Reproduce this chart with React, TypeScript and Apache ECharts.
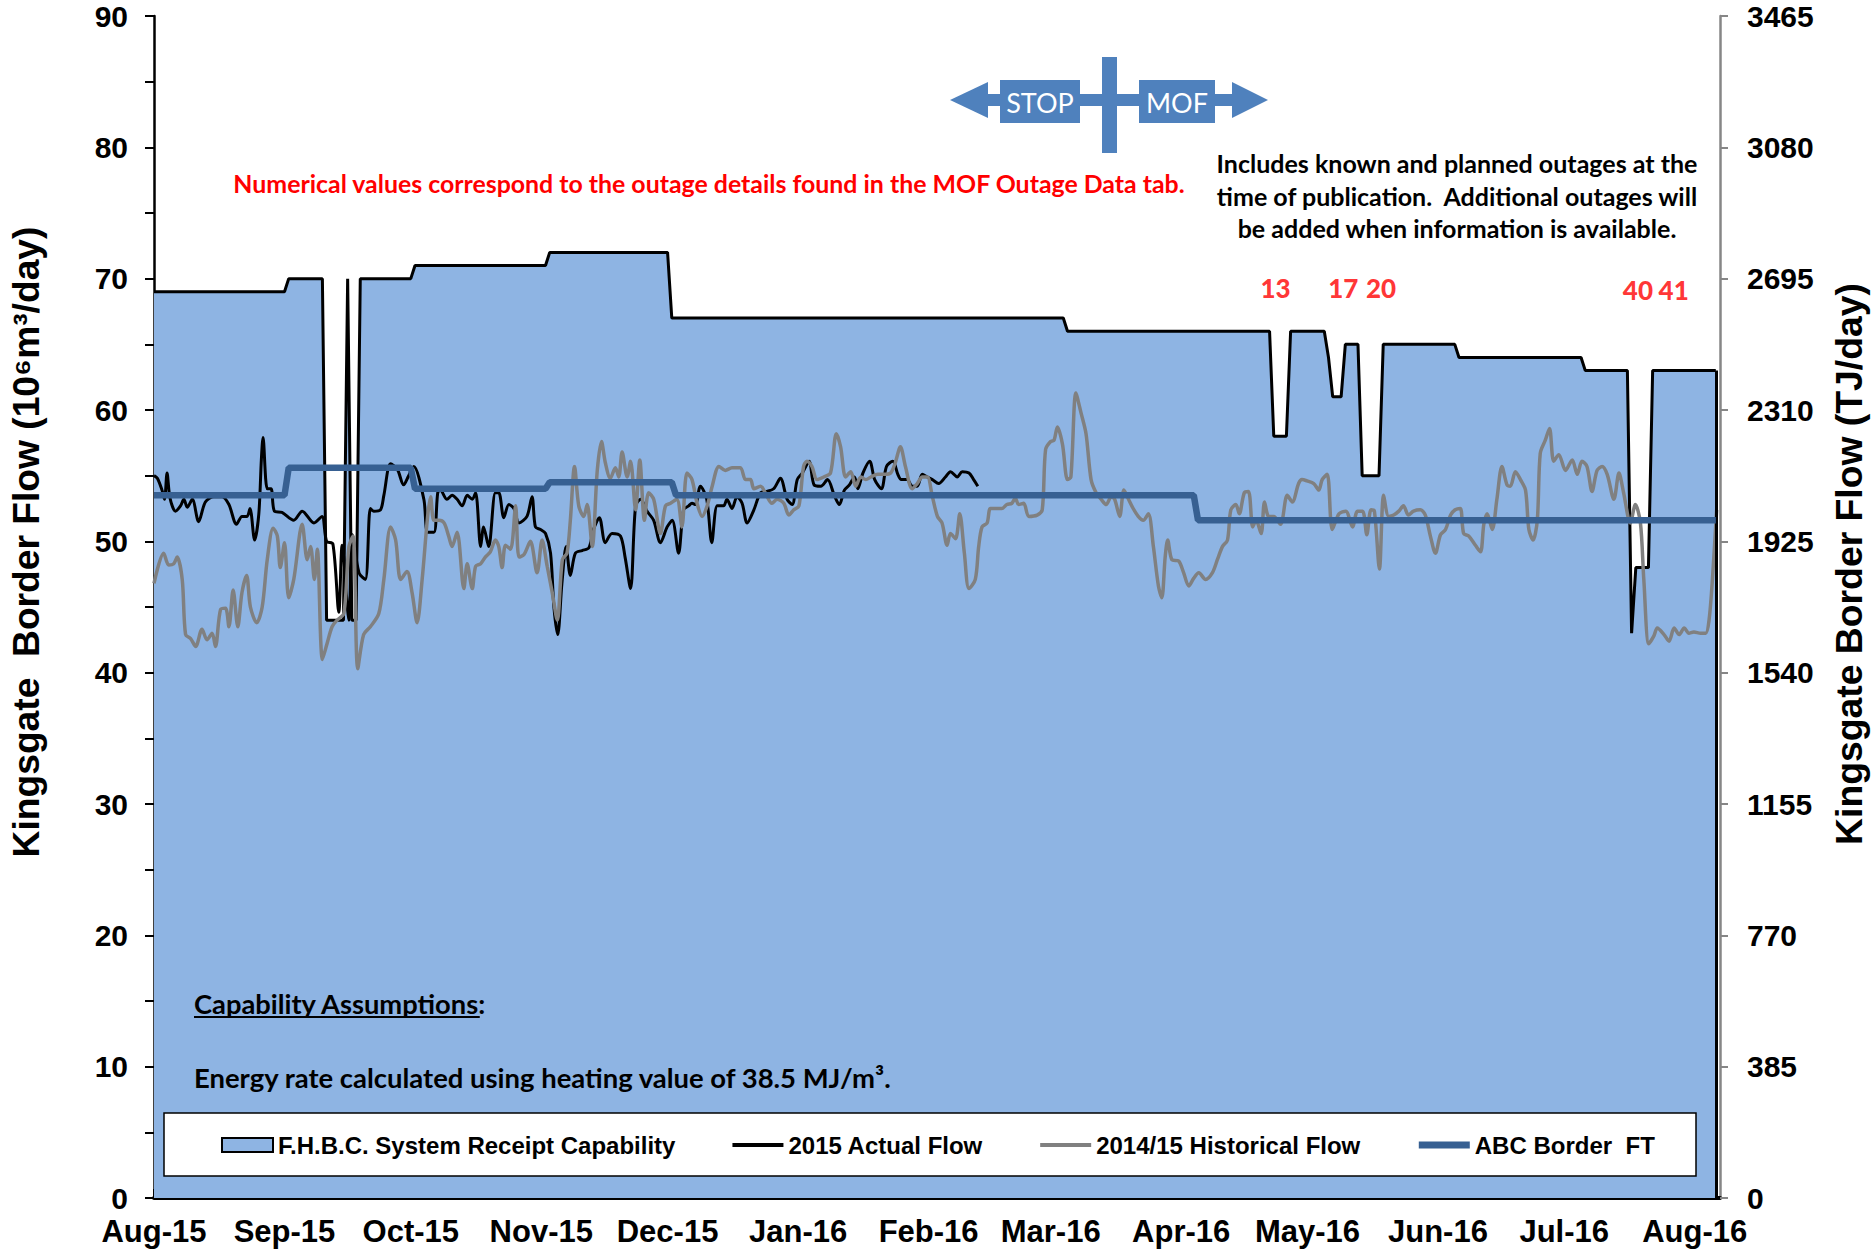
import React, { useEffect, useRef } from 'react';
import * as echarts from 'echarts';

// ---------- DATA ----------
const MONTH_LABELS = ['Aug-15', 'Sep-15', 'Oct-15', 'Nov-15', 'Dec-15', 'Jan-16', 'Feb-16', 'Mar-16', 'Apr-16', 'May-16', 'Jun-16', 'Jul-16', 'Aug-16'];
// days since 1 Aug 2015 of each month start
const MONTH_START_DAY = [0, 31, 61, 92, 122, 153, 184, 213, 244, 274, 305, 335, 366];
const X_MAX_DAY = 372;

const LEFT_MAX = 90;
const LEFT_INTERVAL = 10;
const RIGHT_MAX = 3465;
const RIGHT_INTERVAL = 385;

// F.H.B.C. System Receipt Capability (10^6 m3/day), [day, value]
const CAPABILITY: number[][] = [
  [0, 69], [31, 69], [32, 70], [40, 70], [41, 44], [45, 44], [46, 70], [47, 44], [48, 44], [49, 70],
  [61, 70], [62, 71], [93, 71], [94, 72], [122, 72], [123, 67], [216, 67], [217, 66], [265, 66], [266, 58],
  [269, 58], [270, 66], [278, 66], [279, 64], [280, 61], [282, 61], [283, 65], [286, 65], [287, 55], [291, 55],
  [292, 65], [309, 65], [310, 64], [339, 64], [340, 63], [350, 63], [351, 43], [352, 48], [355, 48], [356, 63],
  [371, 63],
];

// ABC Border FT
const ABC_FT: number[][] = [
  [0, 53.5], [31, 53.5], [32, 55.6], [61, 55.6], [62, 54.0], [93, 54.0], [94, 54.5], [123, 54.5], [124, 53.5],
  [247, 53.5], [248, 51.6], [371, 51.6],
];

// 2015 Actual Flow
const ACTUAL_FLOW: number[][] = [
  [0, 55.0], [0.8, 54.8], [1.9, 53.9], [2.5, 53.2], [3.1, 55.2], [3.8, 53.3], [5.1, 52.3], [6.3, 52.7], [7.1, 53.2], [7.9, 52.6],
  [9.1, 53.2], [10.6, 51.5], [12.2, 53.0], [14.2, 53.4], [16.2, 53.4], [17.8, 52.8], [19.6, 51.3], [20.9, 51.9], [22.1, 51.9], [22.8, 52.5],
  [23.9, 50.1], [24.9, 52.1], [25.5, 56.2], [25.9, 57.9], [26.9, 54.0], [27.8, 54.0], [28.6, 52.3], [30.4, 52.2], [33.2, 51.6], [35.2, 52.3],
  [38, 51.4], [39.9, 51.9], [41, 50.0], [42.5, 49.8], [43.9, 44.6], [44.7, 49.7], [46.3, 44.0], [47.1, 50.5], [48.7, 47.6], [50.2, 47.1],
  [51.4, 52.5], [52.2, 52.3], [53.8, 52.4], [54.6, 53.5], [56.2, 55.9], [57.8, 55.5], [59.3, 54.3], [60.5, 55.0], [61.7, 55.7], [64.1, 53.2],
  [65, 50.7], [66.5, 50.7], [67.4, 53.7], [68, 53.9], [69.6, 53.2], [70.8, 53.5], [72, 53.2], [73.2, 52.7], [74.4, 53.5], [75.6, 53.2],
  [76.4, 53.7], [77.6, 49.6], [78.3, 51.1], [79.5, 49.6], [81.1, 53.7], [81.9, 53.7], [83.1, 51.8], [84.3, 52.8], [85.5, 52.5], [86.7, 51.4],
  [88.6, 51.9], [89.8, 53.4], [90.6, 51.1], [91.8, 50.9], [93, 50.6], [94.2, 49.1], [95, 45.0], [95.9, 42.9], [96.9, 46.8], [97.9, 49.6],
  [98.9, 47.4], [100.1, 49.1], [101.7, 49.3], [103.3, 49.5], [104.4, 50.9], [105.8, 51.8], [107.2, 49.9], [108.8, 50.6], [110.8, 50.4], [111.9, 48.8],
  [113.2, 46.4], [114.4, 52.7], [115.6, 53.2], [117.1, 52.3], [118.7, 51.6], [120.3, 49.9], [121.9, 51.1], [123.1, 51.6], [124.6, 49.1], [125.8, 52.4],
  [127, 52.7], [127.8, 52.9], [128.6, 52.8], [129.8, 54.2], [131.3, 53.2], [132.5, 49.9], [133.8, 52.7], [135.3, 52.7], [136.1, 53.2], [137.3, 52.5],
  [138.5, 53.4], [139.7, 52.9], [140.9, 51.4], [142.5, 52.4], [144.1, 53.7], [145.6, 53.8], [147.2, 54.0], [148.8, 54.8], [150.4, 53.2], [151.6, 52.8],
  [152.8, 54.7], [154, 55.2], [155.6, 56.1], [156.8, 54.3], [158.4, 54.2], [160, 54.7], [161.6, 53.5], [162.8, 52.8], [164, 53.9], [165.2, 54.3],
  [166.4, 54.9], [167.2, 54.0], [168.4, 55.2], [170, 56.1], [171.2, 54.7], [172.8, 54.0], [174, 55.7], [175.5, 56.1], [176.7, 55.1], [177.5, 54.7],
  [178.9, 54.7], [180.1, 54.2], [181.3, 54.2], [182.5, 55.1], [183.7, 54.9], [184.9, 54.7], [186.4, 54.4], [188, 54.9], [189.2, 55.3], [190.8, 54.9],
  [192, 55.3], [193.6, 55.2], [194.7, 54.7], [195.7, 54.2],
];

// 2014/15 Historical Flow
const HISTORICAL_FLOW: number[][] = [
  [0, 46.8], [2.3, 49.1], [3.5, 48.2], [4.7, 48.3], [5.5, 48.8], [6.7, 47.1], [7.5, 42.9], [8.7, 42.6], [9.9, 42.0], [11.4, 43.3],
  [12.6, 42.5], [13.8, 43.0], [14.6, 42.0], [15.8, 44.8], [17, 44.9], [17.8, 43.5], [18.8, 46.3], [19.9, 43.5], [20.9, 46.1], [22, 47.4],
  [22.9, 45.0], [24.4, 43.8], [25.7, 45.0], [26.9, 48.6], [28.3, 51.0], [29.3, 50.4], [30, 48.0], [31, 49.9], [32, 45.7], [33.2, 47.1],
  [35.2, 51.3], [36.4, 48.6], [37.2, 49.6], [38.1, 47.1], [38.8, 49.4], [40, 41.0], [41.1, 42.2], [42.3, 43.5], [43.5, 44.0], [45.1, 44.5],
  [46.3, 49.6], [47.3, 50.4], [48.4, 40.3], [49.8, 42.9], [51.4, 43.5], [53.4, 44.5], [54.6, 47.1], [56.2, 51.1], [57.4, 50.1], [58.6, 47.1],
  [60.1, 47.7], [61.3, 46.1], [62.5, 43.8], [63.7, 47.1], [65, 51.9], [65.7, 53.4], [66.5, 51.6], [67.7, 51.6], [68.9, 51.4], [70, 50.4],
  [70.8, 49.6], [72, 50.7], [73.6, 46.4], [74.4, 48.3], [75.6, 46.4], [76.4, 48.1], [77.6, 48.3], [78.7, 48.8], [79.9, 49.2], [81.1, 50.1],
  [81.9, 49.6], [82.7, 48.0], [83.5, 49.7], [84.7, 49.4], [85.9, 52.7], [86.7, 48.8], [87.9, 49.0], [89.4, 50.0], [91, 47.6], [92.2, 50.1],
  [93.4, 48.1], [94.6, 46.1], [95.8, 44.0], [97, 48.6], [98.1, 49.1], [98.9, 51.6], [99.9, 55.7], [100.9, 52.7], [102.1, 51.9], [102.9, 52.8],
  [104.1, 49.6], [105.3, 55.4], [106.3, 57.6], [107.2, 56.0], [108.4, 54.8], [109.6, 55.6], [110.4, 54.9], [111.2, 56.8], [112.4, 54.9], [113.2, 56.1],
  [114.4, 52.4], [115.4, 56.2], [116.5, 51.6], [117.5, 53.7], [118.7, 53.2], [120.3, 50.6], [121.5, 52.7], [122.7, 52.9], [124.2, 53.2], [125.4, 51.1],
  [126.6, 55.2], [127.8, 54.7], [129, 52.9], [130.2, 51.9], [131.4, 52.7], [132.6, 54.2], [134.2, 55.7], [135.7, 55.4], [137.3, 55.6], [139.3, 55.6],
  [140.5, 54.7], [141.7, 54.7], [142.5, 54.0], [144.1, 54.2], [145.2, 53.7], [146.8, 52.9], [148, 53.2], [149.6, 52.9], [150.8, 52.0], [152, 52.4],
  [153.2, 52.7], [154.3, 55.7], [155.1, 56.1], [156.3, 55.7], [157.5, 54.7], [159.1, 54.9], [160.7, 55.2], [162.1, 58.2], [163.1, 57.2], [164.3, 54.9],
  [165.5, 55.3], [166.7, 54.2], [167.9, 54.9], [169.1, 54.7], [170.3, 54.9], [171.9, 55.1], [173.5, 55.1], [175, 55.2], [176.1, 56.0], [177.3, 57.2],
  [178.5, 55.7], [180.1, 54.0], [181.3, 54.4], [182.5, 54.9], [183.7, 54.9], [184.9, 53.4], [186.1, 51.9], [187.2, 51.4], [188.4, 49.7], [189.2, 50.6],
  [190.4, 50.2], [191.4, 52.1], [192.5, 49.1], [193.6, 46.4], [195.1, 47.1], [195.9, 49.6], [196.7, 51.1], [197.9, 51.4], [198.7, 52.5], [200.3, 52.5],
  [201.4, 52.5], [202.6, 52.8], [203.8, 52.9], [204.6, 53.3], [205.4, 52.8], [206.6, 52.9], [207.8, 51.9], [209.8, 52.0], [211, 52.4], [211.8, 57.0],
  [213, 57.6], [213.8, 57.7], [214.6, 58.7], [215.8, 57.4], [217, 54.7], [217.8, 54.9], [219, 61.3], [220.2, 59.8], [221.4, 58.2], [222.6, 54.7],
  [223.8, 53.7], [225, 53.2], [226.2, 52.8], [227.4, 53.4], [228.2, 53.2], [229.4, 51.9], [230.4, 53.9], [231.5, 53.2], [232.6, 52.5], [233.8, 51.9],
  [235, 51.6], [236.2, 52.1], [237.4, 49.6], [238.6, 46.6], [239.4, 45.7], [240.2, 48.8], [240.8, 50.1], [241.8, 48.6], [243.4, 48.5], [244.6, 47.6],
  [245.8, 46.6], [247, 47.2], [248.2, 47.6], [249.8, 47.1], [251.4, 47.6], [252.6, 48.6], [253.8, 49.6], [255, 50.1], [255.8, 52.4], [257, 52.8],
  [257.8, 52.1], [259, 53.7], [260, 53.8], [261, 51.1], [261.8, 51.6], [263, 50.6], [263.8, 53.0], [264.8, 51.9], [266, 51.9], [267.6, 51.3],
  [269.2, 53.5], [270.4, 53.0], [271.9, 54.4], [272.7, 54.7], [273.9, 54.6], [275.5, 54.4], [276.7, 53.9], [277.5, 54.7], [278.7, 55.1], [279.9, 50.9],
  [281.5, 52.1], [283.1, 52.3], [284.7, 51.1], [285.9, 52.3], [287.1, 52.3], [288.1, 50.5], [289.1, 52.4], [289.9, 52.3], [291.1, 47.9], [292.1, 53.5],
  [293.3, 51.9], [294.5, 52.0], [295.7, 52.3], [296.8, 52.7], [298, 52.0], [299.2, 52.3], [300.8, 52.4], [302, 52.0], [303.2, 50.4], [304.4, 49.1],
  [305.6, 50.5], [306.8, 50.9], [308, 52.0], [309.1, 52.4], [310.3, 52.5], [311.1, 50.6], [312.3, 50.4], [313.9, 49.7], [315.1, 49.2], [315.9, 51.3],
  [316.7, 52.1], [317.9, 50.9], [319, 53.2], [320.2, 55.7], [321.4, 54.3], [322.2, 54.2], [323.4, 55.3], [324.6, 54.7], [325.8, 53.9], [326.6, 50.9],
  [327.6, 50.1], [328.6, 51.6], [329.3, 56.7], [330.5, 57.7], [331.5, 58.6], [332.5, 56.1], [333.7, 56.6], [335.3, 55.4], [336.9, 56.2], [338.1, 55.1],
  [339.2, 56.1], [340.4, 55.7], [341.6, 53.8], [342.8, 55.4], [344, 55.7], [345.2, 55.1], [346.8, 53.2], [348, 55.2], [349.1, 53.7], [350.7, 51.4],
  [351.9, 52.8], [353.1, 51.4], [353.9, 47.1], [355.1, 42.2], [356.3, 42.8], [357.1, 43.4], [358.7, 42.9], [359.9, 42.4], [361.1, 43.4], [362.3, 42.9],
  [363.5, 43.4], [364.6, 43.0], [365.8, 43.1], [367.4, 43.0], [368.6, 43.0], [369.4, 44.0], [370.2, 47.1], [371.2, 52.4],
];

// outage reference numbers shown above the capability line
const OUTAGE_LABELS = ['13', '17', '20', '40', '41'];
const OUTAGE_DAY = [266.4, 282.5, 291.5, 352.5, 361.0];
const OUTAGE_Y = [69.3, 69.3, 69.3, 69.1, 69.1];

const SERIES_NAMES = ['F.H.B.C. System Receipt Capability', '2015 Actual Flow', '2014/15 Historical Flow', 'ABC Border  FT'];

const NOTE_RED = 'Numerical values correspond to the outage details found in the MOF Outage Data tab.';
const NOTE_BLACK = ['Includes known and planned outages at the', 'time of publication.  Additional outages will', 'be added when information is available.'];
const CAP_TITLE = 'Capability Assumptions';
const ENERGY_NOTE = 'Energy rate calculated using heating value of 38.5 MJ/m\u00B3.';
const LEFT_TITLE = 'Kingsgate  Border Flow (10\u2076m\u00B3/day)';
const RIGHT_TITLE = 'Kingsgate Border Flow (TJ/day)';

// ---------- helpers ----------
const ARIAL = '"Liberation Sans", Arial, sans-serif';
const CALIBRI = 'Lato, "Open Sans", sans-serif';

function measure(text: string, weight: string, family: string, size: number): number {
  const c = document.createElement('canvas').getContext('2d');
  if (!c) return text.length * size * 0.5;
  c.font = `${weight} ${size}px ${family}`;
  return c.measureText(text).width;
}
function fit(text: string, weight: string, family: string, target: number): number {
  return (100 * target) / measure(text, weight, family, 100);
}

export default function App() {
  const ref = useRef<HTMLDivElement>(null);

  useEffect(() => {
    document.body.style.margin = '0';
    if (!ref.current) return;
    const chart = echarts.init(ref.current, undefined, { renderer: 'svg' });

    const redSize = fit(NOTE_RED, 'bold', CALIBRI, 953);
    const blackSize = fit(NOTE_BLACK[0], 'bold', CALIBRI, 481);
    const capSize = fit(CAP_TITLE + ':', 'bold', CALIBRI, 293);
    const capW = measure(CAP_TITLE, 'bold', CALIBRI, capSize);
    const energySize = fit(ENERGY_NOTE, 'bold', CALIBRI, 699);
    const leftTitleSize = fit(LEFT_TITLE, 'bold', ARIAL, 631);
    const rightTitleSize = fit(RIGHT_TITLE, 'bold', ARIAL, 562);

    const blue = '#4F81BD';
    const lastCap = CAPABILITY[CAPABILITY.length - 1];
    const hiddenSymbol = { opacity: 0 };

    const option: any = {
      animation: false,
      backgroundColor: '#ffffff',
      grid: { left: 154, right: 153, top: 16, bottom: 59, containLabel: false, outerBoundsMode: 'none' },
      tooltip: { show: false },
      xAxis: {
        type: 'value',
        min: 0,
        max: X_MAX_DAY,
        axisLine: { show: true, onZero: false, lineStyle: { color: '#000', width: 4 } },
        axisTick: { show: true, inside: true, length: 9, lineStyle: { color: '#000', width: 2 }, customValues: MONTH_START_DAY },
        axisLabel: {
          customValues: MONTH_START_DAY,
          formatter: (v: number) => MONTH_LABELS[MONTH_START_DAY.indexOf(Math.round(v))] ?? '',
          fontSize: 31,
          fontWeight: 'bold',
          fontFamily: ARIAL,
          color: '#000',
          margin: 18,
        },
        splitLine: { show: false },
      },
      yAxis: [
        {
          type: 'value',
          position: 'left',
          min: 0,
          max: LEFT_MAX,
          interval: LEFT_INTERVAL,
          axisLine: { show: true, lineStyle: { color: '#000', width: 2.5 } },
          axisTick: { show: true, length: 9, lineStyle: { color: '#000', width: 2 } },
          minorTick: { show: true, splitNumber: 2, length: 9, lineStyle: { color: '#000', width: 2 } },
          axisLabel: { fontSize: 30, fontWeight: 'bold', fontFamily: ARIAL, color: '#000', margin: 26, formatter: (v: number) => String(v) },
          splitLine: { show: false },
        },
        {
          type: 'value',
          position: 'right',
          min: 0,
          max: RIGHT_MAX,
          interval: RIGHT_INTERVAL,
          axisLine: { show: true, lineStyle: { color: '#868686', width: 2.5 } },
          axisTick: { show: true, length: 8, lineStyle: { color: '#868686', width: 2 } },
          axisLabel: { fontSize: 30, fontWeight: 'bold', fontFamily: ARIAL, color: '#000', margin: 27, formatter: (v: number) => String(v) },
          splitLine: { show: false },
        },
      ],
      legend: {
        show: true,
        z: 20,
        left: 221,
        top: 1133,
        padding: 0,
        orient: 'horizontal',
        itemGap: 55,
        itemWidth: 51,
        itemHeight: 14,
        selectedMode: false,
        textStyle: { fontSize: 24, fontWeight: 'bold', fontFamily: ARIAL, color: '#000', lineHeight: 24 },
        data: [
          { name: SERIES_NAMES[0], icon: 'rect', itemStyle: { color: '#8EB4E3', borderColor: '#000', borderWidth: 2 } },
          { name: SERIES_NAMES[1], itemStyle: hiddenSymbol, lineStyle: { width: 4 } },
          { name: SERIES_NAMES[2], itemStyle: hiddenSymbol, lineStyle: { width: 4 } },
          { name: SERIES_NAMES[3], itemStyle: hiddenSymbol, lineStyle: { width: 7 } },
        ],
      },
      series: [
        {
          name: SERIES_NAMES[0],
          type: 'line',
          data: CAPABILITY,
          symbol: 'none',
          z: 2,
          lineStyle: { color: '#000', width: 3 },
          itemStyle: { color: '#8EB4E3' },
          areaStyle: { color: '#8EB4E3', opacity: 1 },
          emphasis: { disabled: true },
          markLine: {
            silent: true,
            symbol: ['none', 'none'],
            label: { show: false },
            lineStyle: { color: '#000', width: 3, type: 'solid' },
            data: [[{ coord: [lastCap[0], 0] }, { coord: [lastCap[0], lastCap[1]] }]],
          },
        },
        {
          name: SERIES_NAMES[1],
          type: 'line',
          data: ACTUAL_FLOW,
          symbol: 'none',
          smooth: 0.3,
          z: 3,
          lineStyle: { color: '#000000', width: 3 },
          itemStyle: { color: '#000000' },
          emphasis: { disabled: true },
        },
        {
          name: SERIES_NAMES[2],
          type: 'line',
          data: HISTORICAL_FLOW,
          symbol: 'none',
          smooth: 0.3,
          z: 4,
          lineStyle: { color: '#808080', width: 3.5 },
          itemStyle: { color: '#808080' },
          emphasis: { disabled: true },
        },
        {
          name: SERIES_NAMES[3],
          type: 'line',
          data: ABC_FT,
          symbol: 'none',
          z: 5,
          lineStyle: { color: '#376092', width: 6.5 },
          itemStyle: { color: '#376092' },
          emphasis: { disabled: true },
        },
        {
          name: 'outages',
          type: 'scatter',
          z: 6,
          symbolSize: 1,
          itemStyle: { color: 'transparent' },
          data: OUTAGE_LABELS.map((t, i) => ({ name: t, value: [OUTAGE_DAY[i], OUTAGE_Y[i]] })),
          label: {
            show: true,
            position: 'inside',
            formatter: '{b}',
            color: '#FF0000',
            fontSize: 26,
            fontWeight: 900,
            fontFamily: CALIBRI,
          },
          emphasis: { disabled: true },
        },
      ],
      graphic: [
        // legend frame
        { type: 'rect', z: 10, shape: { x: 164, y: 1113, width: 1532, height: 63 }, style: { fill: '#ffffff', stroke: '#000', lineWidth: 1.5 } },
        // axis titles
        {
          type: 'text', z: 10, x: 26, y: 542, rotation: Math.PI / 2,
          style: { text: LEFT_TITLE, fontSize: leftTitleSize, fontWeight: 'bold', fontFamily: ARIAL, fill: '#000', align: 'center', verticalAlign: 'middle', textAlign: 'center', textVerticalAlign: 'middle' },
        },
        {
          type: 'text', z: 10, x: 1849, y: 564, rotation: Math.PI / 2,
          style: { text: RIGHT_TITLE, fontSize: rightTitleSize, fontWeight: 'bold', fontFamily: ARIAL, fill: '#000', align: 'center', verticalAlign: 'middle', textAlign: 'center', textVerticalAlign: 'middle' },
        },
        // red note
        {
          type: 'text', z: 10, x: 709, y: 183,
          style: { text: NOTE_RED, fontSize: redSize, fontWeight: 'bold', fontFamily: CALIBRI, fill: '#FF0000', align: 'center', verticalAlign: 'middle', textAlign: 'center', textVerticalAlign: 'middle' },
        },
        // black note
        ...NOTE_BLACK.map((t, i) => ({
          type: 'text', z: 10, x: 1457, y: [163, 196, 228][i],
          style: { text: t, fontSize: blackSize, fontWeight: 'bold', fontFamily: CALIBRI, fill: '#000', align: 'center', verticalAlign: 'middle', textAlign: 'center', textVerticalAlign: 'middle' },
        })),
        // capability assumptions
        {
          type: 'text', z: 10, x: 194, y: 1003,
          style: { text: CAP_TITLE + ':', fontSize: capSize, fontWeight: 'bold', fontFamily: CALIBRI, fill: '#000', align: 'left', verticalAlign: 'middle', textAlign: 'left', textVerticalAlign: 'middle' },
        },
        { type: 'line', z: 10, shape: { x1: 194, y1: 1017, x2: 194 + capW, y2: 1017 }, style: { stroke: '#000', lineWidth: 2 } },
        {
          type: 'text', z: 10, x: 194, y: 1077,
          style: { text: ENERGY_NOTE, fontSize: energySize, fontWeight: 'bold', fontFamily: CALIBRI, fill: '#000', align: 'left', verticalAlign: 'middle', textAlign: 'left', textVerticalAlign: 'middle' },
        },
        // STOP / MOF arrow
        { type: 'polygon', z: 10, shape: { points: [[950, 100], [988, 82], [988, 118]] }, style: { fill: blue } },
        { type: 'polygon', z: 10, shape: { points: [[1268, 100], [1232, 82], [1232, 118]] }, style: { fill: blue } },
        { type: 'rect', z: 10, shape: { x: 986, y: 94, width: 248, height: 12 }, style: { fill: blue } },
        { type: 'rect', z: 10, shape: { x: 1000, y: 80, width: 80, height: 43 }, style: { fill: blue } },
        { type: 'rect', z: 10, shape: { x: 1139, y: 80, width: 76, height: 43 }, style: { fill: blue } },
        { type: 'rect', z: 10, shape: { x: 1102, y: 57, width: 15, height: 96 }, style: { fill: blue } },
        {
          type: 'text', z: 11, x: 1040, y: 102,
          style: { text: 'STOP', fontSize: 27, fontFamily: CALIBRI, fill: '#ffffff', align: 'center', verticalAlign: 'middle', textAlign: 'center', textVerticalAlign: 'middle' },
        },
        {
          type: 'text', z: 11, x: 1177, y: 102,
          style: { text: 'MOF', fontSize: 27, fontFamily: CALIBRI, fill: '#ffffff', align: 'center', verticalAlign: 'middle', textAlign: 'center', textVerticalAlign: 'middle' },
        },
      ],
    };

    chart.setOption(option);
    return () => chart.dispose();
  }, []);

  return (
    <div style={{ position: 'fixed', left: 0, top: 0, width: 1873, height: 1257, background: '#fff' }}>
      <div ref={ref} style={{ width: 1873, height: 1257 }} />
    </div>
  );
}
